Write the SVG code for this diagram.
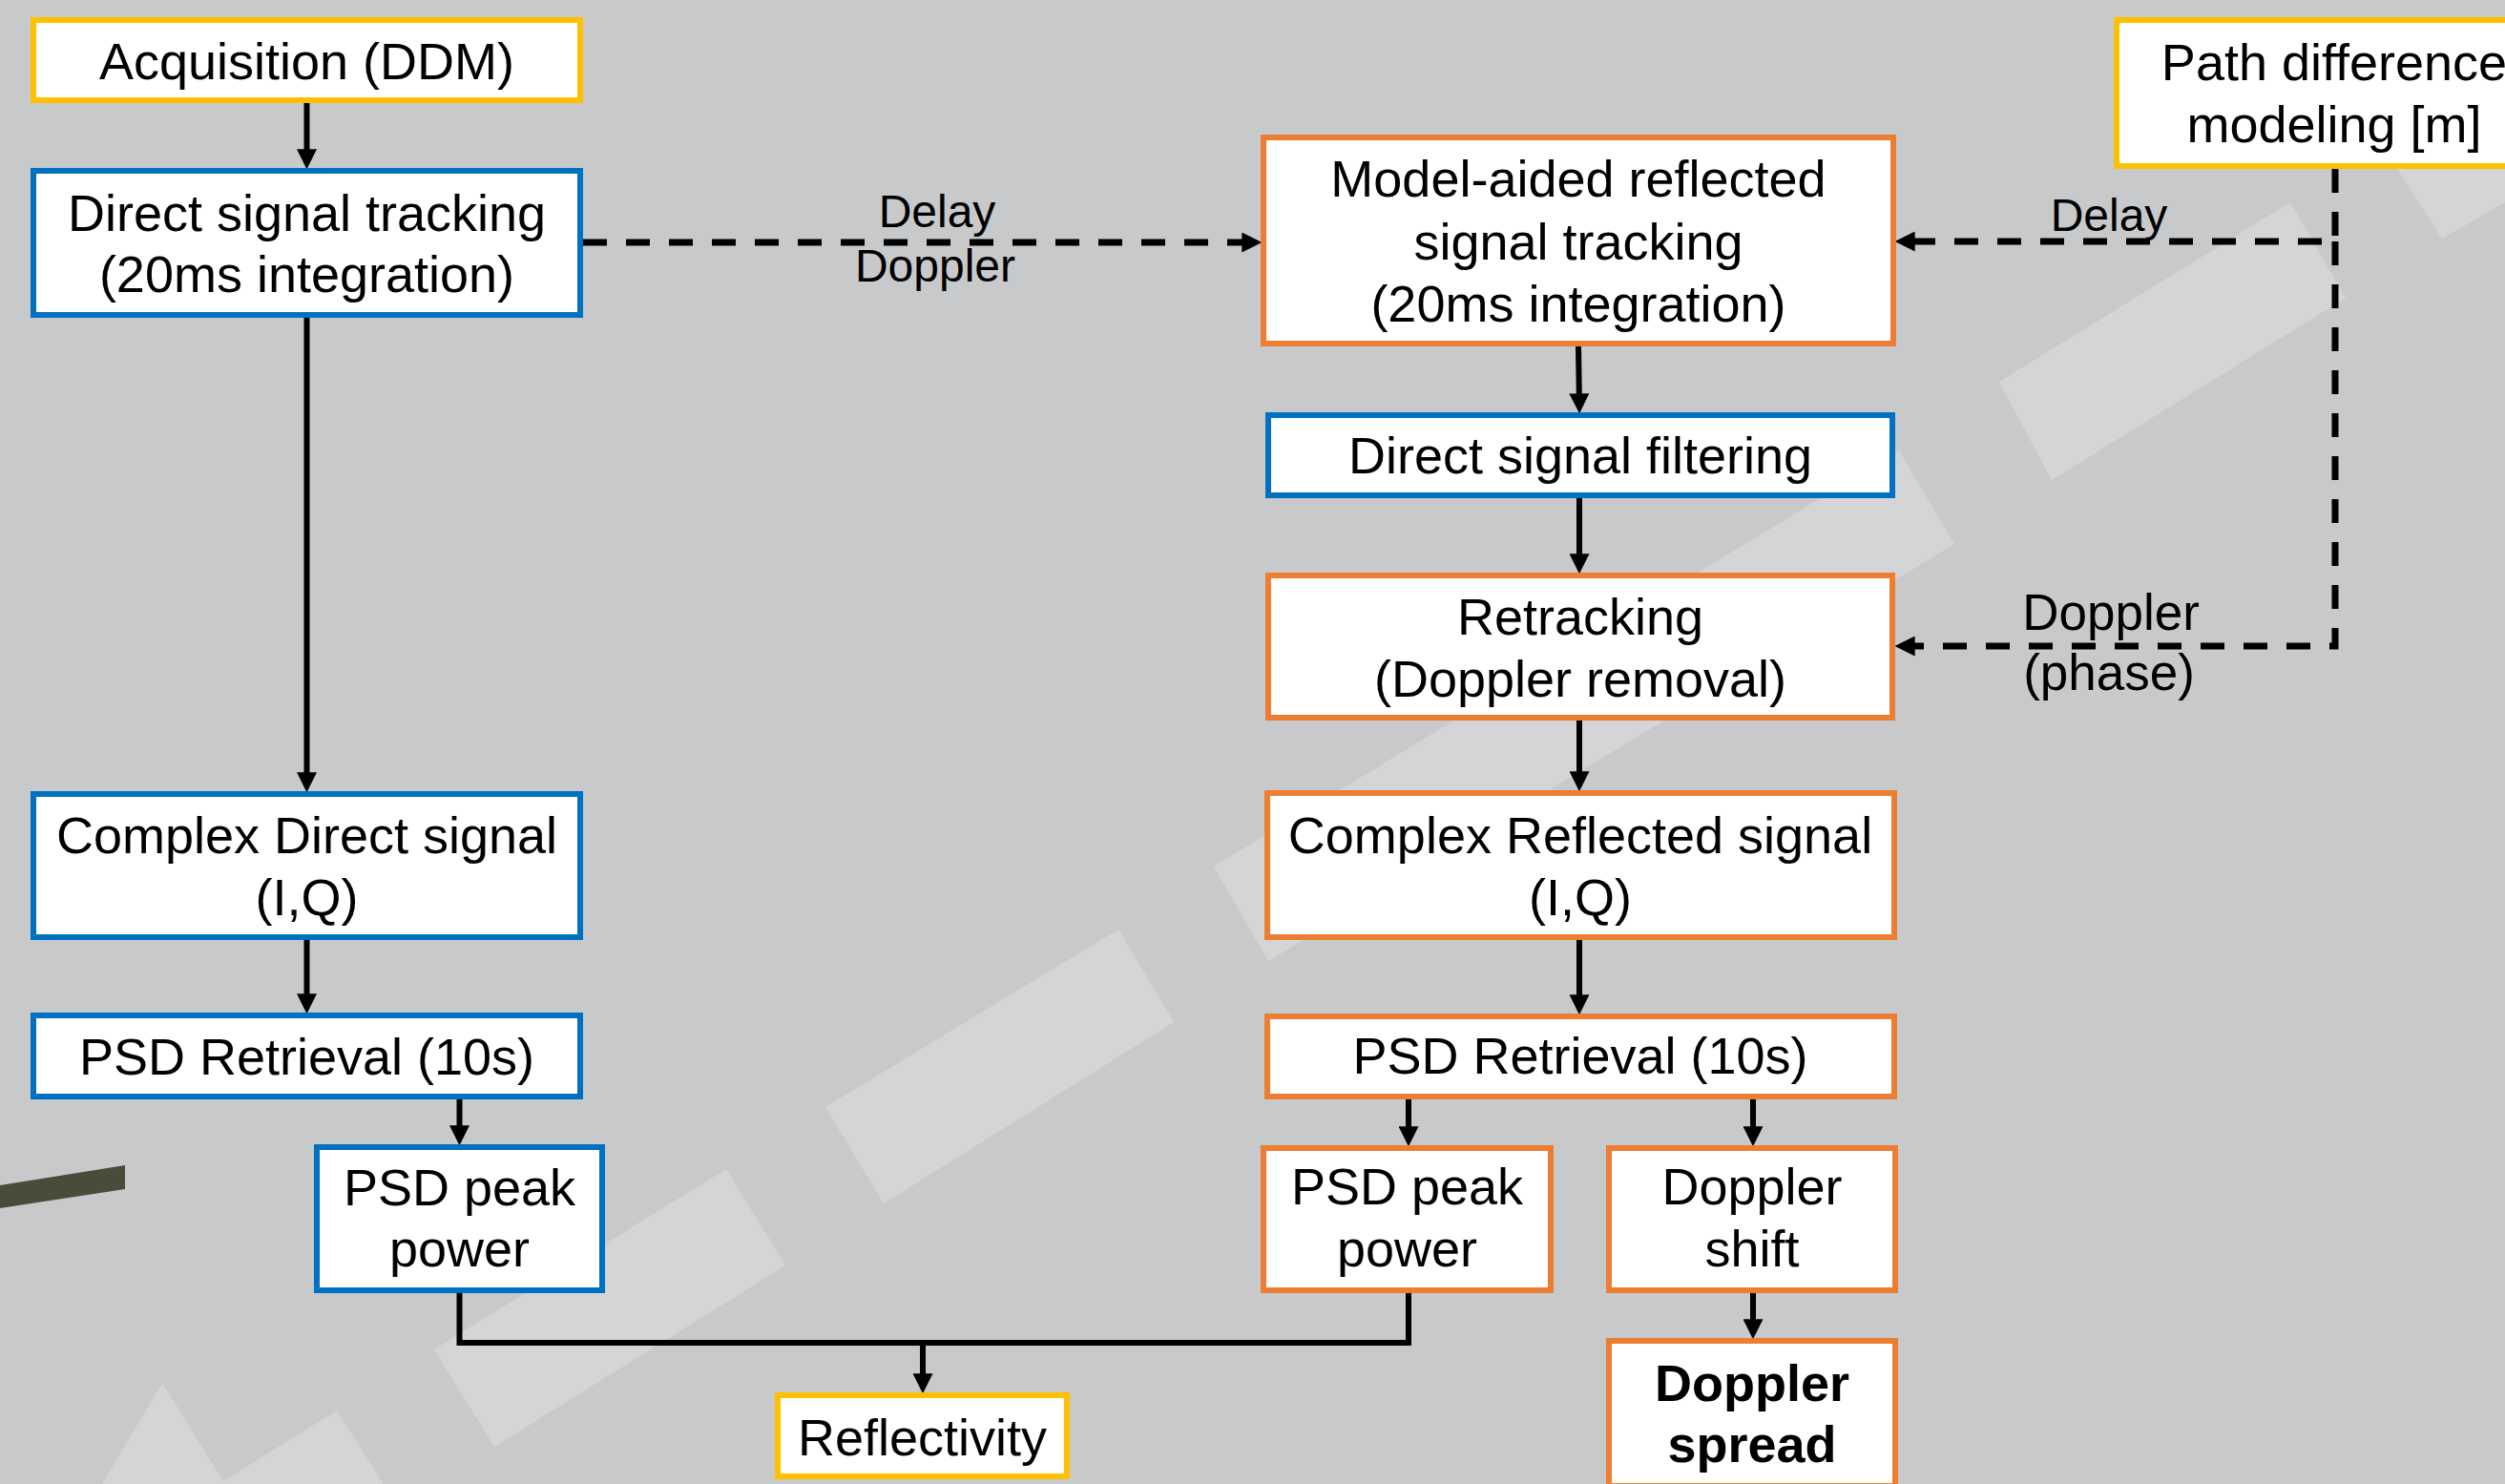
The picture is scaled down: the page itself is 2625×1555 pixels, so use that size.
<svg xmlns="http://www.w3.org/2000/svg" width="2625" height="1555" viewBox="0 0 2625 1555">
<style>
.bg{fill:#c8c9cb}
.band{fill:#d4d5d7}
.box{fill:#ffffff;stroke-width:6}
.b{stroke:#0070C0}
.o{stroke:#ED7D31}
.y{stroke:#FFC000}
.t{font-family:"Liberation Sans",Arial,sans-serif;font-size:54px;text-anchor:middle;fill:#000}
.bold{font-weight:bold}
.lbl{font-family:"Liberation Sans",Arial,sans-serif;font-size:48px;text-anchor:middle;fill:#000}
.lbl2{font-family:"Liberation Sans",Arial,sans-serif;font-size:53px;text-anchor:middle;fill:#000}
.conn{fill:none;stroke:#000;stroke-width:6}
.dash{fill:none;stroke:#000;stroke-width:7;stroke-dasharray:25 20}
</style>
<defs>
<marker id="ah" markerUnits="userSpaceOnUse" markerWidth="21" markerHeight="21" refX="10" refY="9" orient="auto" viewBox="0 0 18 18">
<path d="M0,0 L18,9 L0,18 z" fill="#000"/>
</marker>
</defs>
<g id="background">
<rect class="bg" x="0" y="0" width="2625" height="1555"/>
<polygon class="band" points="2095,400 2400,212 2458,312 2150,503"/>
<polygon class="band" points="2512,177 2559,250 2625,212 2625,177"/>
<polygon class="band" points="1272,908 1990,472 2048,570 1329,1007"/>
<polygon class="band" points="865,1160 1172,974 1230,1071 926,1261"/>
<polygon class="band" points="455,1414 761,1225 823,1326 518,1516"/>
<polygon class="band" points="107,1555 170,1449 234,1552 353,1478 402,1555"/>
<polygon points="0,1242 131,1221 131,1246 0,1266" fill="#4b4b3c"/>
</g>
<g id="connectors">
<path class="conn" d="M321.5,108 V168" marker-end="url(#ah)"/>
<path class="conn" d="M321.5,333 V821" marker-end="url(#ah)"/>
<path class="conn" d="M321.5,985 V1053" marker-end="url(#ah)"/>
<path class="conn" d="M481.5,1152 V1191" marker-end="url(#ah)"/>
<path class="conn" d="M481.5,1355 V1407 H1476 V1355"/>
<path class="conn" d="M967,1407 V1451" marker-end="url(#ah)"/>
<path class="dash" d="M611,254 H1313" marker-end="url(#ah)"/>
<path class="conn" d="M1654,363 L1655,424" marker-end="url(#ah)"/>
<path class="conn" d="M1655,522 V592" marker-end="url(#ah)"/>
<path class="conn" d="M1655,755 V820" marker-end="url(#ah)"/>
<path class="conn" d="M1655,985 V1054" marker-end="url(#ah)"/>
<path class="conn" d="M1476,1152 V1192" marker-end="url(#ah)"/>
<path class="conn" d="M1837,1152 V1192" marker-end="url(#ah)"/>
<path class="conn" d="M1837,1355 V1394" marker-end="url(#ah)"/>
<path class="dash" d="M2447,177 V253 H1995" marker-end="url(#ah)"/>
<path class="dash" d="M2447,253 V677 H1995" marker-end="url(#ah)"/>
<text class="lbl" x="982" y="238">Delay</text>
<text class="lbl" x="980" y="295">Doppler</text>
<text class="lbl" x="2210" y="242">Delay</text>
<text class="lbl2" x="2212" y="660">Doppler</text>
<text class="lbl2" x="2210" y="723">(phase)</text>
</g>
<g id="acquisition">
<rect class="box y" x="35" y="21" width="573" height="84"/>
<text class="t" x="321.5" y="83">Acquisition (DDM)</text>
</g>
<g id="direct-tracking">
<rect class="box b" x="35" y="179" width="573" height="151"/>
<text class="t"><tspan x="321.5" y="242">Direct signal tracking</tspan><tspan x="321.5" y="306">(20ms integration)</tspan></text>
</g>
<g id="complex-direct">
<rect class="box b" x="35" y="832" width="573" height="150"/>
<text class="t"><tspan x="321.5" y="894">Complex Direct signal</tspan><tspan x="321.5" y="959">(I,Q)</tspan></text>
</g>
<g id="psd-retrieval-direct">
<rect class="box b" x="35" y="1064" width="573" height="85"/>
<text class="t" x="321.5" y="1126">PSD Retrieval (10s)</text>
</g>
<g id="psd-peak-direct">
<rect class="box b" x="332" y="1202" width="299" height="150"/>
<text class="t"><tspan x="481.5" y="1263">PSD peak</tspan><tspan x="481.5" y="1327">power</tspan></text>
</g>
<g id="reflectivity">
<rect class="box y" x="815" y="1462" width="303" height="85"/>
<text class="t" x="966.5" y="1525">Reflectivity</text>
</g>
<g id="model-aided">
<rect class="box o" x="1324" y="144" width="660" height="216"/>
<text class="t"><tspan x="1654" y="206">Model-aided reflected</tspan><tspan x="1654" y="272">signal tracking</tspan><tspan x="1654" y="337">(20ms integration)</tspan></text>
</g>
<g id="direct-filtering">
<rect class="box b" x="1329" y="435" width="654" height="84"/>
<text class="t" x="1656" y="496">Direct signal filtering</text>
</g>
<g id="retracking">
<rect class="box o" x="1329" y="603" width="654" height="149"/>
<text class="t"><tspan x="1656" y="665">Retracking</tspan><tspan x="1656" y="730">(Doppler removal)</tspan></text>
</g>
<g id="complex-reflected">
<rect class="box o" x="1328" y="831" width="657" height="151"/>
<text class="t"><tspan x="1656" y="894">Complex Reflected signal</tspan><tspan x="1656" y="959">(I,Q)</tspan></text>
</g>
<g id="psd-retrieval-reflected">
<rect class="box o" x="1328" y="1065" width="657" height="84"/>
<text class="t" x="1656" y="1125">PSD Retrieval (10s)</text>
</g>
<g id="psd-peak-reflected">
<rect class="box o" x="1324" y="1203" width="301" height="149"/>
<text class="t"><tspan x="1474.5" y="1262">PSD peak</tspan><tspan x="1474.5" y="1327">power</tspan></text>
</g>
<g id="doppler-shift">
<rect class="box o" x="1686" y="1203" width="300" height="149"/>
<text class="t"><tspan x="1836" y="1262">Doppler</tspan><tspan x="1836" y="1327">shift</tspan></text>
</g>
<g id="doppler-spread">
<rect class="box o" x="1686" y="1405" width="300" height="152"/>
<text class="t bold"><tspan x="1836" y="1468">Doppler</tspan><tspan x="1836" y="1532">spread</tspan></text>
</g>
<g id="path-difference">
<rect class="box y" x="2218" y="21" width="460" height="153"/>
<text class="t"><tspan x="2446" y="84">Path difference</tspan><tspan x="2446" y="149">modeling [m]</tspan></text>
</g>
</svg>
